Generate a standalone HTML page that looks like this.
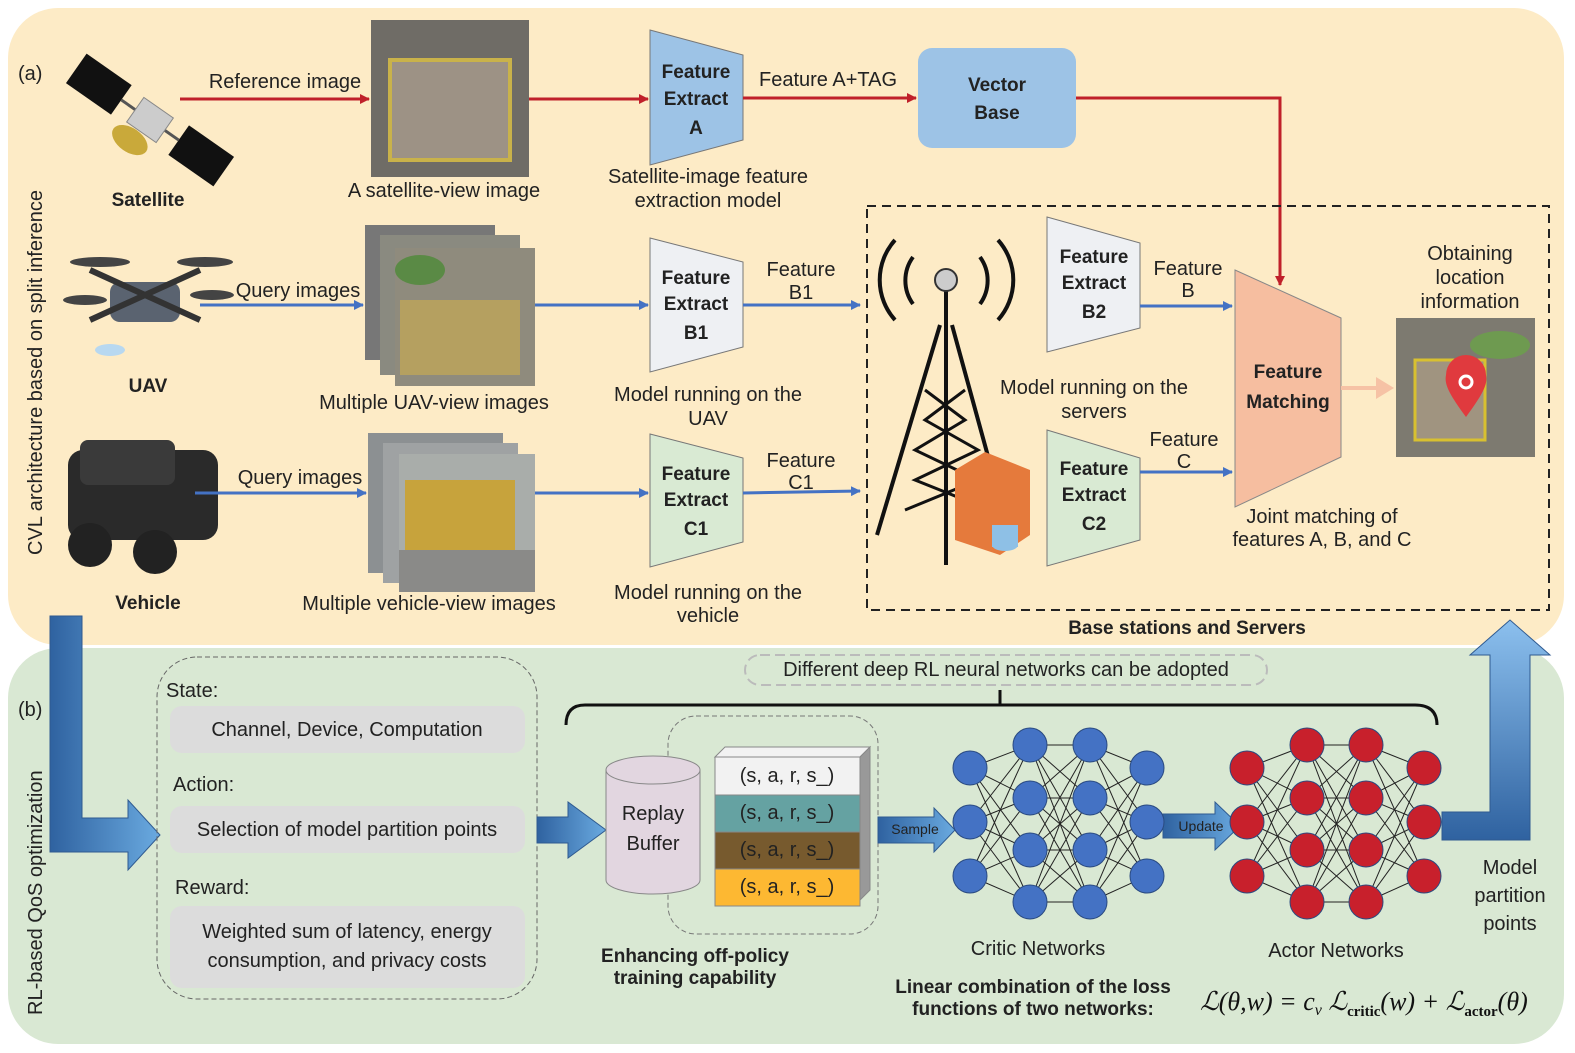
<!DOCTYPE html>
<html><head><meta charset="utf-8"><style>
html,body{margin:0;padding:0;background:#fff}
svg{display:block;font-family:"Liberation Sans",sans-serif}
.t{font-size:20px;fill:#222}
.b{font-size:19px;font-weight:bold;fill:#222}
</style></head><body>
<svg id="s" width="1575" height="1053" viewBox="0 0 1575 1053" xmlns="http://www.w3.org/2000/svg">
<defs>
<marker id="ar" markerWidth="10" markerHeight="10" refX="9" refY="5" orient="auto" markerUnits="userSpaceOnUse"><path d="M0,0 L10,5 L0,10 z" fill="#c0202a"/></marker>
<marker id="ab" markerWidth="10" markerHeight="10" refX="9" refY="5" orient="auto" markerUnits="userSpaceOnUse"><path d="M0,0 L10,5 L0,10 z" fill="#4472c4"/></marker>
<linearGradient id="bg1" x1="0" x2="1"><stop offset="0" stop-color="#2f62a0"/><stop offset="1" stop-color="#6aaae0"/></linearGradient>
<linearGradient id="bg2" x1="0" x2="0" y1="1" y2="0"><stop offset="0" stop-color="#2f62a0"/><stop offset="1" stop-color="#8cc0ee"/></linearGradient>
</defs>
<!-- panels -->
<rect x="8" y="648" width="1556" height="396" rx="50" fill="#d9e8d3"/>
<rect x="8" y="8" width="1556" height="637" rx="50" fill="#fdebc6"/>
<text x="18" y="80" class="t" font-size="22">(a)</text>
<text x="18" y="716" class="t" font-size="22">(b)</text>
<text transform="translate(42,555) rotate(-90)" class="t">CVL architecture based on split inference</text>
<text transform="translate(42,1015) rotate(-90)" class="t">RL-based QoS optimization</text>

<!-- satellite -->
<g transform="translate(150,120) rotate(35)">
<rect x="-90" y="-18" width="55" height="36" fill="#111"/><rect x="35" y="-18" width="55" height="36" fill="#111"/>
<line x1="-35" y1="0" x2="35" y2="0" stroke="#555" stroke-width="3"/>
<rect x="-18" y="-15" width="36" height="30" fill="#ccc" stroke="#888"/>
<ellipse cx="-5" cy="28" rx="20" ry="12" fill="#c9a93a"/>
</g>
<text x="148" y="206" class="b" text-anchor="middle">Satellite</text>
<!-- satellite image -->
<rect x="371" y="20" width="158" height="157" fill="#6f6c66"/>
<rect x="390" y="60" width="120" height="100" fill="#9d9285" stroke="#c9b24a" stroke-width="4"/>
<text x="444" y="197" class="t" text-anchor="middle">A satellite-view image</text>
<line x1="180" y1="99" x2="369" y2="99" stroke="#c0202a" stroke-width="3" marker-end="url(#ar)"/>
<text x="285" y="88" class="t" text-anchor="middle">Reference image</text>
<line x1="529" y1="99" x2="648" y2="99" stroke="#c0202a" stroke-width="3" marker-end="url(#ar)"/>
<polygon points="650,30 743,55 743,140 650,165" fill="#9dc3e6" stroke="#777"/>
<text x="696" y="78" class="b" text-anchor="middle">Feature</text><text x="696" y="105" class="b" text-anchor="middle">Extract</text><text x="696" y="134" class="b" text-anchor="middle">A</text>
<text x="708" y="183" class="t" text-anchor="middle">Satellite-image feature</text><text x="708" y="207" class="t" text-anchor="middle">extraction model</text>
<line x1="743" y1="98" x2="916" y2="98" stroke="#c0202a" stroke-width="3" marker-end="url(#ar)"/>
<text x="828" y="86" class="t" text-anchor="middle">Feature A+TAG</text>
<rect x="918" y="48" width="158" height="100" rx="14" fill="#9dc3e6"/>
<text x="997" y="91" class="b" text-anchor="middle">Vector</text><text x="997" y="119" class="b" text-anchor="middle">Base</text>
<polyline points="1076,98 1280,98 1280,285" fill="none" stroke="#c0202a" stroke-width="3" marker-end="url(#ar)"/>

<!-- UAV -->
<g fill="#444"><rect x="110" y="282" width="70" height="40" rx="10" fill="#5a6370"/>
<line x1="90" y1="270" x2="200" y2="320" stroke="#333" stroke-width="6"/><line x1="200" y1="270" x2="90" y2="320" stroke="#333" stroke-width="6"/>
<ellipse cx="100" cy="262" rx="30" ry="5"/><ellipse cx="205" cy="262" rx="28" ry="5"/><ellipse cx="85" cy="300" rx="22" ry="5"/><ellipse cx="212" cy="295" rx="22" ry="5"/>
<ellipse cx="110" cy="350" rx="15" ry="6" fill="#b8d8f0"/></g>
<text x="148" y="392" class="b" text-anchor="middle">UAV</text>
<rect x="365" y="225" width="130" height="135" fill="#777"/><rect x="380" y="235" width="140" height="140" fill="#8a8a80"/>
<rect x="395" y="248" width="140" height="138" fill="#8f8b7d"/><rect x="400" y="300" width="120" height="75" fill="#b5a060"/><ellipse cx="420" cy="270" rx="25" ry="15" fill="#5a8a45"/>
<text x="434" y="409" class="t" text-anchor="middle">Multiple UAV-view images</text>
<line x1="200" y1="305" x2="363" y2="305" stroke="#4472c4" stroke-width="3" marker-end="url(#ab)"/>
<text x="298" y="297" class="t" text-anchor="middle">Query images</text>
<line x1="535" y1="305" x2="648" y2="305" stroke="#4472c4" stroke-width="3" marker-end="url(#ab)"/>
<polygon points="650,238 743,262 743,347 650,372" fill="#eef0f3" stroke="#777"/>
<text x="696" y="284" class="b" text-anchor="middle">Feature</text><text x="696" y="310" class="b" text-anchor="middle">Extract</text><text x="696" y="339" class="b" text-anchor="middle">B1</text>
<text x="708" y="401" class="t" text-anchor="middle">Model running on the</text><text x="708" y="425" class="t" text-anchor="middle">UAV</text>
<line x1="743" y1="305" x2="860" y2="305" stroke="#4472c4" stroke-width="3" marker-end="url(#ab)"/>
<text x="801" y="276" class="t" text-anchor="middle">Feature</text><text x="801" y="299" class="t" text-anchor="middle">B1</text>

<!-- Vehicle -->
<rect x="68" y="450" width="150" height="90" rx="15" fill="#2a2a2a"/>
<rect x="80" y="440" width="95" height="45" rx="8" fill="#3a3a3a"/>
<circle cx="90" cy="545" r="22" fill="#222"/><circle cx="155" cy="552" r="22" fill="#222"/>
<text x="148" y="609" class="b" text-anchor="middle">Vehicle</text>
<rect x="368" y="433" width="135" height="140" fill="#8c9092"/><rect x="383" y="443" width="135" height="140" fill="#9fa2a3"/>
<rect x="399" y="454" width="136" height="138" fill="#a9adaa"/><rect x="405" y="480" width="110" height="70" fill="#c7a33c"/><rect x="399" y="550" width="136" height="42" fill="#8a8a88"/>
<text x="429" y="610" class="t" text-anchor="middle">Multiple vehicle-view images</text>
<line x1="195" y1="493" x2="366" y2="493" stroke="#4472c4" stroke-width="3" marker-end="url(#ab)"/>
<text x="300" y="484" class="t" text-anchor="middle">Query images</text>
<line x1="535" y1="493" x2="648" y2="493" stroke="#4472c4" stroke-width="3" marker-end="url(#ab)"/>
<polygon points="650,434 743,458 743,542 650,567" fill="#d9ead3" stroke="#777"/>
<text x="696" y="480" class="b" text-anchor="middle">Feature</text><text x="696" y="506" class="b" text-anchor="middle">Extract</text><text x="696" y="535" class="b" text-anchor="middle">C1</text>
<text x="708" y="599" class="t" text-anchor="middle">Model running on the</text><text x="708" y="622" class="t" text-anchor="middle">vehicle</text>
<line x1="743" y1="493" x2="860" y2="491" stroke="#4472c4" stroke-width="3" marker-end="url(#ab)"/>
<text x="801" y="467" class="t" text-anchor="middle">Feature</text><text x="801" y="489" class="t" text-anchor="middle">C1</text>

<!-- base stations box -->
<rect x="867" y="206" width="682" height="404" fill="none" stroke="#222" stroke-width="2" stroke-dasharray="9,6"/>
<text x="1187" y="634" class="b" text-anchor="middle">Base stations and Servers</text>
<!-- tower -->
<g stroke="#111" stroke-width="4" fill="none">
<path d="M895,240 A60,60 0 0 0 895,320"/><path d="M913,257 A40,40 0 0 0 913,304"/><path d="M998,240 A60,60 0 0 1 998,320"/><path d="M980,257 A40,40 0 0 1 980,304"/>
<line x1="946" y1="290" x2="946" y2="565"/><line x1="940" y1="325" x2="877" y2="535"/><line x1="952" y1="325" x2="1000" y2="500"/>
<path d="M925,390 L965,420 L915,450 L978,480 L905,510 M965,390 L925,420 L978,450 L915,480 L990,510" stroke-width="3"/>
</g>
<circle cx="946" cy="280" r="11" fill="#ccc" stroke="#333" stroke-width="2"/>
<polygon points="955,470 985,452 1030,470 1030,535 1000,555 955,540" fill="#e57a3c"/>
<ellipse cx="1005" cy="545" rx="13" ry="6" fill="#8ec0e6"/><rect x="992" y="525" width="26" height="22" fill="#8ec0e6"/>
<polygon points="1047,217 1140,243 1140,328 1047,352" fill="#eef0f3" stroke="#777"/>
<text x="1094" y="263" class="b" text-anchor="middle">Feature</text><text x="1094" y="289" class="b" text-anchor="middle">Extract</text><text x="1094" y="318" class="b" text-anchor="middle">B2</text>
<text x="1094" y="394" class="t" text-anchor="middle">Model running on the</text><text x="1094" y="418" class="t" text-anchor="middle">servers</text>
<polygon points="1047,430 1140,458 1140,540 1047,566" fill="#d9ead3" stroke="#777"/>
<text x="1094" y="475" class="b" text-anchor="middle">Feature</text><text x="1094" y="501" class="b" text-anchor="middle">Extract</text><text x="1094" y="530" class="b" text-anchor="middle">C2</text>
<line x1="1140" y1="306" x2="1232" y2="306" stroke="#4472c4" stroke-width="3" marker-end="url(#ab)"/>
<text x="1188" y="275" class="t" text-anchor="middle">Feature</text><text x="1188" y="297" class="t" text-anchor="middle">B</text>
<line x1="1140" y1="472" x2="1232" y2="472" stroke="#4472c4" stroke-width="3" marker-end="url(#ab)"/>
<text x="1184" y="446" class="t" text-anchor="middle">Feature</text><text x="1184" y="468" class="t" text-anchor="middle">C</text>
<polygon points="1235,270 1341,318 1341,457 1235,507" fill="#f6bea0" stroke="#888"/>
<text x="1288" y="378" class="b" text-anchor="middle">Feature</text><text x="1288" y="408" class="b" text-anchor="middle">Matching</text>
<text x="1322" y="523" class="t" text-anchor="middle">Joint matching of</text><text x="1322" y="546" class="t" text-anchor="middle">features A, B, and C</text>
<line x1="1341" y1="388" x2="1380" y2="388" stroke="#f6c2a5" stroke-width="4"/><polygon points="1376,377 1394,388 1376,399" fill="#f6c2a5"/>
<rect x="1396" y="318" width="139" height="139" fill="#7d7a70"/><rect x="1415" y="360" width="70" height="80" fill="#a09480" stroke="#d8c030" stroke-width="3"/><ellipse cx="1500" cy="345" rx="30" ry="14" fill="#6e9a50"/>
<path d="M1466,417 C1450,395 1444,385 1446,375 A20,20 0 0 1 1486,375 C1488,385 1482,395 1466,417 z" fill="#e03a3e"/><circle cx="1466" cy="382" r="6" fill="none" stroke="#fff" stroke-width="3"/>
<text x="1470" y="260" class="t" text-anchor="middle">Obtaining</text><text x="1470" y="284" class="t" text-anchor="middle">location</text><text x="1470" y="308" class="t" text-anchor="middle">information</text>

<!-- bottom -->
<path d="M50,616 L82,616 L82,818 L128,818 L128,800 L160,835 L128,870 L128,852 L50,852 z" fill="url(#bg1)" stroke="#2f5a90"/>
<rect x="157" y="657" width="380" height="342" rx="40" fill="none" stroke="#666" stroke-dasharray="5,3"/>
<text x="166" y="697" class="t">State:</text>
<rect x="170" y="706" width="355" height="47" rx="12" fill="#dcdcdc"/><text x="347" y="736" class="t" text-anchor="middle">Channel, Device, Computation</text>
<text x="173" y="791" class="t">Action:</text>
<rect x="170" y="806" width="355" height="47" rx="12" fill="#dcdcdc"/><text x="347" y="836" class="t" text-anchor="middle">Selection of model partition points</text>
<text x="175" y="894" class="t">Reward:</text>
<rect x="170" y="906" width="355" height="82" rx="12" fill="#dcdcdc"/><text x="347" y="938" class="t" text-anchor="middle">Weighted sum of latency, energy</text><text x="347" y="967" class="t" text-anchor="middle">consumption, and privacy costs</text>
<path d="M537,817 L568,817 L568,802 L606,830 L568,858 L568,843 L537,843 z" fill="url(#bg1)" stroke="#2f5a90"/>
<rect x="668" y="716" width="210" height="218" rx="28" fill="none" stroke="#777" stroke-dasharray="5,3"/>
<path d="M606,770 L606,880 A47,14 0 0 0 700,880 L700,770" fill="#e2d6e0" stroke="#888"/><ellipse cx="653" cy="770" rx="47" ry="14" fill="#e2d6e0" stroke="#888"/>
<text x="653" y="820" class="t" font-size="22" text-anchor="middle">Replay</text><text x="653" y="850" class="t" font-size="22" text-anchor="middle">Buffer</text>
<polygon points="715,757 725,747 870,747 860,757" fill="#f2f2f2" stroke="#888"/>
<polygon points="860,757 870,747 870,890 860,900" fill="#999" stroke="#888"/>
<rect x="715" y="757" width="145" height="38" fill="#f2f2f2" stroke="#888"/><rect x="715" y="795" width="145" height="37" fill="#65a2a2" stroke="#888"/>
<rect x="715" y="832" width="145" height="37" fill="#775a2e" stroke="#888"/><rect x="715" y="869" width="145" height="37" fill="#fdb832" stroke="#888"/>
<text x="787" y="782" class="t" text-anchor="middle">(s, a, r, s_)</text><text x="787" y="819" class="t" text-anchor="middle">(s, a, r, s_)</text><text x="787" y="856" class="t" text-anchor="middle">(s, a, r, s_)</text><text x="787" y="893" class="t" text-anchor="middle">(s, a, r, s_)</text>
<path d="M878,817 L934,817 L934,808 L955,830 L934,852 L934,843 L878,843 z" fill="url(#bg1)" stroke="#2f5a90"/><text x="915" y="834" font-size="14" fill="#222" text-anchor="middle">Sample</text>
<path d="M1163,814 L1215,814 L1215,802 L1240,826 L1215,850 L1215,838 L1163,838 z" fill="url(#bg1)" stroke="#2f5a90"/><text x="1201" y="831" font-size="14" fill="#222" text-anchor="middle">Update</text>
<text x="695" y="962" class="b" text-anchor="middle">Enhancing off-policy</text><text x="695" y="984" class="b" text-anchor="middle">training capability</text>
<rect x="745" y="655" width="522" height="30" rx="15" fill="none" stroke="#bbb" stroke-width="2" stroke-dasharray="10,5"/>
<text x="1006" y="676" class="t" text-anchor="middle">Different deep RL neural networks can be adopted</text>
<path d="M566,725 Q566,705 585,705 L1415,705 Q1437,705 1437,725" fill="none" stroke="#111" stroke-width="3"/><line x1="1000" y1="705" x2="1000" y2="690" stroke="#111" stroke-width="3"/>
<g id="nets"></g>
<text x="1038" y="955" class="t" text-anchor="middle">Critic Networks</text>
<text x="1336" y="957" class="t" text-anchor="middle">Actor Networks</text>
<text x="1033" y="993" class="b" text-anchor="middle">Linear combination of the loss</text><text x="1033" y="1015" class="b" text-anchor="middle">functions of two networks:</text>
<text x="1200" y="1010" font-family="Liberation Serif,serif" font-style="italic" font-size="26" fill="#111">ℒ(θ,w) = c<tspan font-size="16" dy="5">v</tspan><tspan dy="-5"> ℒ</tspan><tspan font-size="15" dy="6" font-weight="bold" font-style="normal">critic</tspan><tspan dy="-6">(w) + ℒ</tspan><tspan font-size="15" dy="6" font-weight="bold" font-style="normal">actor</tspan><tspan dy="-6">(θ)</tspan></text>
<path d="M1442,812 L1490,812 L1490,655 L1470,655 L1510,620 L1550,655 L1530,655 L1530,840 L1442,840 z" fill="url(#bg2)" stroke="#2f5a90"/>
<text x="1510" y="874" class="t" text-anchor="middle">Model</text><text x="1510" y="902" class="t" text-anchor="middle">partition</text><text x="1510" y="930" class="t" text-anchor="middle">points</text>
</svg>
<script>
(function(){var g=document.getElementById('nets'),ns='http://www.w3.org/2000/svg',s='';
function net(xs,col){var L=[[768,822,876],[745,798,850,902],[745,798,850,902],[768,822,876]];
for(var i=0;i<3;i++)for(var a=0;a<L[i].length;a++)for(var b=0;b<L[i+1].length;b++)s+='<line x1="'+xs[i]+'" y1="'+L[i][a]+'" x2="'+xs[i+1]+'" y2="'+L[i+1][b]+'" stroke="#222" stroke-width="1"/>';
for(i=0;i<4;i++)for(a=0;a<L[i].length;a++)s+='<circle cx="'+xs[i]+'" cy="'+L[i][a]+'" r="17" fill="'+col+'" stroke="#2a4a80" stroke-width="1"/>';}
net([970,1030,1090,1147],'#4472c4');net([1247,1307,1366,1424],'#c8202c');g.innerHTML=s;})();
</script>
</body></html>
